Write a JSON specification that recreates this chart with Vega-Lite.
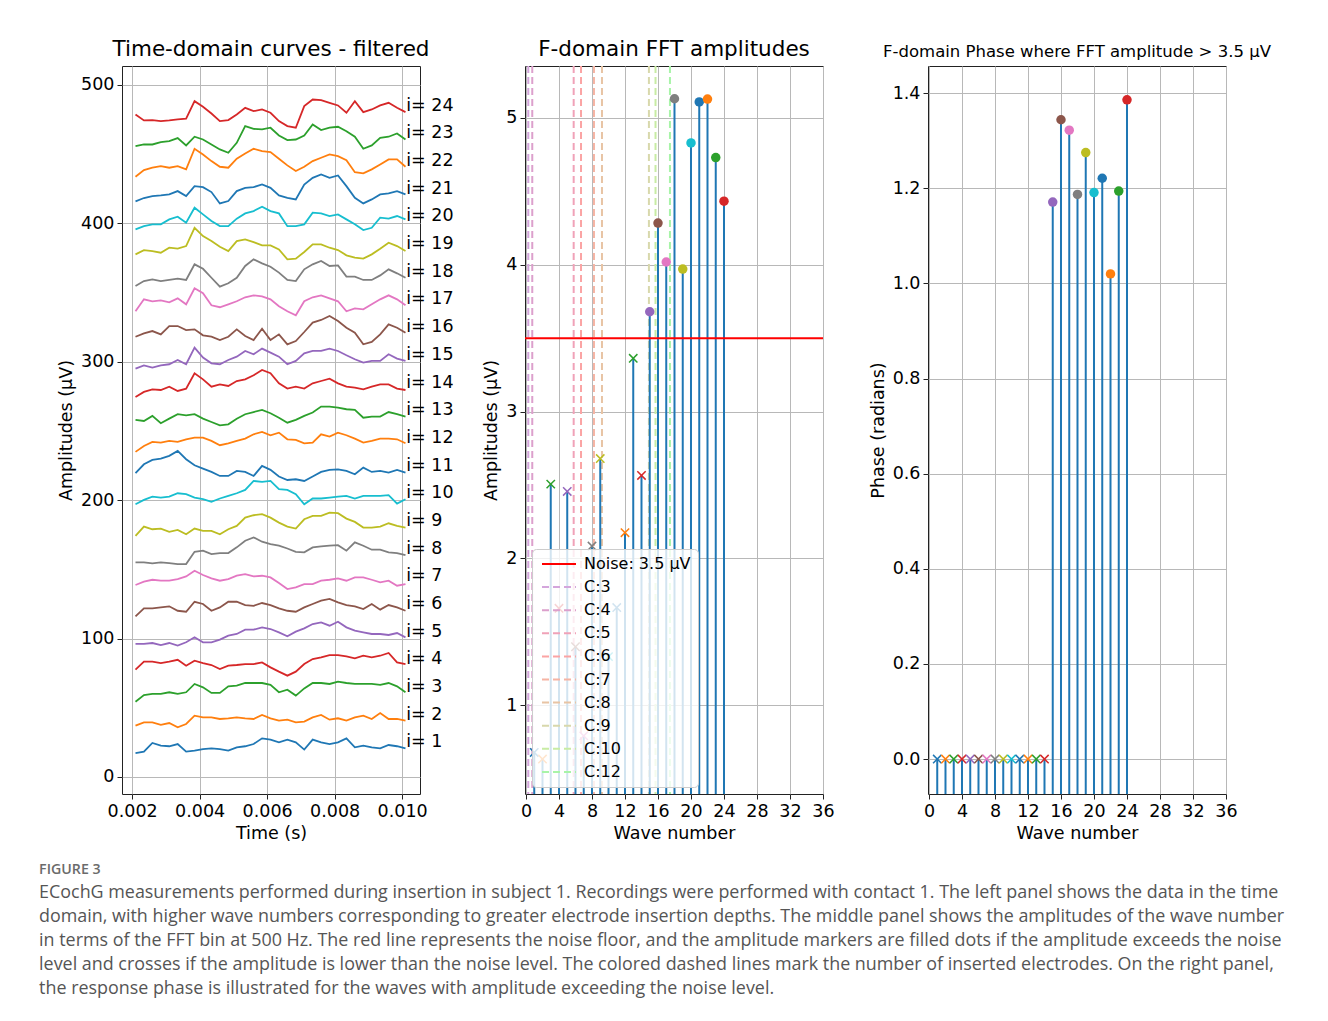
{
"$schema": "https://vega.github.io/schema/vega-lite/v6.json",
"background": "white",
"padding": {"left": 39, "top": 38, "right": 10, "bottom": 10},
"config": {
  "font": "DejaVu Sans",
  "view": {"stroke": "#222222", "strokeWidth": 1},
  "axis": {"labelFont": "DejaVu Sans", "labelFontSize": 17.5, "labelColor": "#000000", "titleFont": "DejaVu Sans", "titleFontSize": 17.5, "titleFontWeight": "normal", "titleColor": "#000000", "tickColor": "#222222", "tickSize": 5, "domain": false, "gridColor": "#b8b8b8", "gridWidth": 1, "labelPadding": 3, "titlePadding": 5, "labelOverlap": false, "labelFlush": false, "labelSeparation": -40}
},
"datasets": {
"curves": [
{"i":24,"t":0.0021,"v":478.7},{"i":24,"t":0.00235,"v":474.4},{"i":24,"t":0.0026,"v":474.6},{"i":24,"t":0.00285,"v":473.9},{"i":24,"t":0.0031,"v":474.4},{"i":24,"t":0.00335,"v":475.1},{"i":24,"t":0.0036,"v":475.6},{"i":24,"t":0.00385,"v":488.3},{"i":24,"t":0.0041,"v":484.2},{"i":24,"t":0.00435,"v":479.4},{"i":24,"t":0.0046,"v":473.9},{"i":24,"t":0.00485,"v":474.6},{"i":24,"t":0.0051,"v":478.7},{"i":24,"t":0.00535,"v":483.5},{"i":24,"t":0.0056,"v":481.1},{"i":24,"t":0.00585,"v":482.3},{"i":24,"t":0.0061,"v":479.9},{"i":24,"t":0.00635,"v":473.9},{"i":24,"t":0.0066,"v":470.3},{"i":24,"t":0.00685,"v":469.1},{"i":24,"t":0.0071,"v":484.7},{"i":24,"t":0.00735,"v":489.5},{"i":24,"t":0.0076,"v":489.0},{"i":24,"t":0.00785,"v":487.1},{"i":24,"t":0.0081,"v":485.2},{"i":24,"t":0.00835,"v":479.9},{"i":24,"t":0.0086,"v":488.3},{"i":24,"t":0.00885,"v":480.4},{"i":24,"t":0.0091,"v":482.3},{"i":24,"t":0.00935,"v":485.2},{"i":24,"t":0.0096,"v":487.1},{"i":24,"t":0.00985,"v":483.5},{"i":24,"t":0.0101,"v":480.4},
{"i":23,"t":0.0021,"v":455.8},{"i":23,"t":0.00235,"v":457.0},{"i":23,"t":0.0026,"v":457.0},{"i":23,"t":0.00285,"v":458.7},{"i":23,"t":0.0031,"v":459.4},{"i":23,"t":0.00335,"v":461.6},{"i":23,"t":0.0036,"v":456.3},{"i":23,"t":0.00385,"v":462.6},{"i":23,"t":0.0041,"v":460.6},{"i":23,"t":0.00435,"v":457.0},{"i":23,"t":0.0046,"v":453.4},{"i":23,"t":0.00485,"v":451.0},{"i":23,"t":0.0051,"v":458.2},{"i":23,"t":0.00535,"v":470.3},{"i":23,"t":0.0056,"v":468.3},{"i":23,"t":0.00585,"v":467.9},{"i":23,"t":0.0061,"v":469.1},{"i":23,"t":0.00635,"v":463.5},{"i":23,"t":0.0066,"v":460.2},{"i":23,"t":0.00685,"v":460.6},{"i":23,"t":0.0071,"v":463.5},{"i":23,"t":0.00735,"v":471.5},{"i":23,"t":0.0076,"v":467.4},{"i":23,"t":0.00785,"v":469.1},{"i":23,"t":0.0081,"v":469.8},{"i":23,"t":0.00835,"v":466.6},{"i":23,"t":0.0086,"v":462.6},{"i":23,"t":0.00885,"v":453.9},{"i":23,"t":0.0091,"v":456.3},{"i":23,"t":0.00935,"v":461.8},{"i":23,"t":0.0096,"v":462.6},{"i":23,"t":0.00985,"v":465.0},{"i":23,"t":0.0101,"v":460.6},
{"i":22,"t":0.0021,"v":433.7},{"i":22,"t":0.00235,"v":438.5},{"i":22,"t":0.0026,"v":440.2},{"i":22,"t":0.00285,"v":441.4},{"i":22,"t":0.0031,"v":440.2},{"i":22,"t":0.00335,"v":441.4},{"i":22,"t":0.0036,"v":439.0},{"i":22,"t":0.00385,"v":453.9},{"i":22,"t":0.0041,"v":449.8},{"i":22,"t":0.00435,"v":445.0},{"i":22,"t":0.0046,"v":440.9},{"i":22,"t":0.00485,"v":440.2},{"i":22,"t":0.0051,"v":446.7},{"i":22,"t":0.00535,"v":450.5},{"i":22,"t":0.0056,"v":453.9},{"i":22,"t":0.00585,"v":452.2},{"i":22,"t":0.0061,"v":451.5},{"i":22,"t":0.00635,"v":446.7},{"i":22,"t":0.0066,"v":441.9},{"i":22,"t":0.00685,"v":437.8},{"i":22,"t":0.0071,"v":440.9},{"i":22,"t":0.00735,"v":445.0},{"i":22,"t":0.0076,"v":447.4},{"i":22,"t":0.00785,"v":449.8},{"i":22,"t":0.0081,"v":448.6},{"i":22,"t":0.00835,"v":445.7},{"i":22,"t":0.0086,"v":437.0},{"i":22,"t":0.00885,"v":436.1},{"i":22,"t":0.0091,"v":439.0},{"i":22,"t":0.00935,"v":442.6},{"i":22,"t":0.0096,"v":446.2},{"i":22,"t":0.00985,"v":446.2},{"i":22,"t":0.0101,"v":440.9},
{"i":21,"t":0.0021,"v":415.9},{"i":21,"t":0.00235,"v":418.3},{"i":21,"t":0.0026,"v":419.7},{"i":21,"t":0.00285,"v":420.2},{"i":21,"t":0.0031,"v":420.9},{"i":21,"t":0.00335,"v":423.3},{"i":21,"t":0.0036,"v":419.7},{"i":21,"t":0.00385,"v":426.9},{"i":21,"t":0.0041,"v":426.2},{"i":21,"t":0.00435,"v":422.6},{"i":21,"t":0.0046,"v":414.4},{"i":21,"t":0.00485,"v":416.1},{"i":21,"t":0.0051,"v":423.3},{"i":21,"t":0.00535,"v":425.7},{"i":21,"t":0.0056,"v":426.2},{"i":21,"t":0.00585,"v":428.1},{"i":21,"t":0.0061,"v":425.7},{"i":21,"t":0.00635,"v":420.2},{"i":21,"t":0.0066,"v":418.5},{"i":21,"t":0.00685,"v":417.3},{"i":21,"t":0.0071,"v":428.1},{"i":21,"t":0.00735,"v":432.9},{"i":21,"t":0.0076,"v":435.4},{"i":21,"t":0.00785,"v":432.9},{"i":21,"t":0.0081,"v":434.6},{"i":21,"t":0.00835,"v":426.9},{"i":21,"t":0.0086,"v":418.5},{"i":21,"t":0.00885,"v":414.4},{"i":21,"t":0.0091,"v":417.3},{"i":21,"t":0.00935,"v":420.9},{"i":21,"t":0.0096,"v":421.6},{"i":21,"t":0.00985,"v":423.3},{"i":21,"t":0.0101,"v":420.9},
{"i":20,"t":0.0021,"v":395.6},{"i":20,"t":0.00235,"v":398.0},{"i":20,"t":0.0026,"v":399.3},{"i":20,"t":0.00285,"v":399.3},{"i":20,"t":0.0031,"v":402.9},{"i":20,"t":0.00335,"v":404.8},{"i":20,"t":0.0036,"v":400.5},{"i":20,"t":0.00385,"v":411.3},{"i":20,"t":0.0041,"v":406.5},{"i":20,"t":0.00435,"v":401.7},{"i":20,"t":0.0046,"v":398.0},{"i":20,"t":0.00485,"v":398.0},{"i":20,"t":0.0051,"v":403.4},{"i":20,"t":0.00535,"v":407.2},{"i":20,"t":0.0056,"v":408.9},{"i":20,"t":0.00585,"v":412.0},{"i":20,"t":0.0061,"v":408.9},{"i":20,"t":0.00635,"v":407.2},{"i":20,"t":0.0066,"v":398.0},{"i":20,"t":0.00685,"v":398.0},{"i":20,"t":0.0071,"v":399.3},{"i":20,"t":0.00735,"v":407.7},{"i":20,"t":0.0076,"v":407.2},{"i":20,"t":0.00785,"v":405.3},{"i":20,"t":0.0081,"v":406.5},{"i":20,"t":0.00835,"v":402.9},{"i":20,"t":0.0086,"v":399.3},{"i":20,"t":0.00885,"v":395.2},{"i":20,"t":0.0091,"v":396.8},{"i":20,"t":0.00935,"v":404.1},{"i":20,"t":0.0096,"v":403.4},{"i":20,"t":0.00985,"v":405.3},{"i":20,"t":0.0101,"v":402.9},
{"i":19,"t":0.0021,"v":377.6},{"i":19,"t":0.00235,"v":380.7},{"i":19,"t":0.0026,"v":380.0},{"i":19,"t":0.00285,"v":378.8},{"i":19,"t":0.0031,"v":382.4},{"i":19,"t":0.00335,"v":381.7},{"i":19,"t":0.0036,"v":383.6},{"i":19,"t":0.00385,"v":396.8},{"i":19,"t":0.0041,"v":390.8},{"i":19,"t":0.00435,"v":387.2},{"i":19,"t":0.0046,"v":383.1},{"i":19,"t":0.00485,"v":380.0},{"i":19,"t":0.0051,"v":387.2},{"i":19,"t":0.00535,"v":388.4},{"i":19,"t":0.0056,"v":386.5},{"i":19,"t":0.00585,"v":384.1},{"i":19,"t":0.0061,"v":384.1},{"i":19,"t":0.00635,"v":381.2},{"i":19,"t":0.0066,"v":374.0},{"i":19,"t":0.00685,"v":374.5},{"i":19,"t":0.0071,"v":379.3},{"i":19,"t":0.00735,"v":384.8},{"i":19,"t":0.0076,"v":384.8},{"i":19,"t":0.00785,"v":382.4},{"i":19,"t":0.0081,"v":380.7},{"i":19,"t":0.00835,"v":376.9},{"i":19,"t":0.0086,"v":375.2},{"i":19,"t":0.00885,"v":374.5},{"i":19,"t":0.0091,"v":377.6},{"i":19,"t":0.00935,"v":381.7},{"i":19,"t":0.0096,"v":386.0},{"i":19,"t":0.00985,"v":383.6},{"i":19,"t":0.0101,"v":380.0},
{"i":18,"t":0.0021,"v":354.7},{"i":18,"t":0.00235,"v":358.3},{"i":18,"t":0.0026,"v":359.5},{"i":18,"t":0.00285,"v":358.3},{"i":18,"t":0.0031,"v":359.1},{"i":18,"t":0.00335,"v":360.0},{"i":18,"t":0.0036,"v":359.1},{"i":18,"t":0.00385,"v":370.4},{"i":18,"t":0.0041,"v":367.2},{"i":18,"t":0.00435,"v":360.7},{"i":18,"t":0.0046,"v":354.3},{"i":18,"t":0.00485,"v":356.7},{"i":18,"t":0.0051,"v":360.7},{"i":18,"t":0.00535,"v":369.2},{"i":18,"t":0.0056,"v":374.0},{"i":18,"t":0.00585,"v":371.1},{"i":18,"t":0.0061,"v":368.7},{"i":18,"t":0.00635,"v":364.4},{"i":18,"t":0.0066,"v":359.1},{"i":18,"t":0.00685,"v":358.3},{"i":18,"t":0.0071,"v":366.8},{"i":18,"t":0.00735,"v":370.4},{"i":18,"t":0.0076,"v":372.8},{"i":18,"t":0.00785,"v":369.2},{"i":18,"t":0.0081,"v":369.6},{"i":18,"t":0.00835,"v":361.5},{"i":18,"t":0.0086,"v":361.5},{"i":18,"t":0.00885,"v":359.1},{"i":18,"t":0.0091,"v":359.1},{"i":18,"t":0.00935,"v":362.4},{"i":18,"t":0.0096,"v":366.8},{"i":18,"t":0.00985,"v":363.9},{"i":18,"t":0.0101,"v":360.7},
{"i":17,"t":0.0021,"v":336.5},{"i":17,"t":0.00235,"v":345.1},{"i":17,"t":0.0026,"v":343.7},{"i":17,"t":0.00285,"v":344.4},{"i":17,"t":0.0031,"v":343.0},{"i":17,"t":0.00335,"v":345.8},{"i":17,"t":0.0036,"v":341.5},{"i":17,"t":0.00385,"v":353.1},{"i":17,"t":0.0041,"v":349.5},{"i":17,"t":0.00435,"v":340.8},{"i":17,"t":0.0046,"v":339.4},{"i":17,"t":0.00485,"v":341.5},{"i":17,"t":0.0051,"v":343.7},{"i":17,"t":0.00535,"v":346.6},{"i":17,"t":0.0056,"v":348.0},{"i":17,"t":0.00585,"v":347.3},{"i":17,"t":0.0061,"v":345.1},{"i":17,"t":0.00635,"v":340.1},{"i":17,"t":0.0066,"v":336.5},{"i":17,"t":0.00685,"v":333.6},{"i":17,"t":0.0071,"v":343.7},{"i":17,"t":0.00735,"v":346.6},{"i":17,"t":0.0076,"v":348.0},{"i":17,"t":0.00785,"v":345.8},{"i":17,"t":0.0081,"v":343.7},{"i":17,"t":0.00835,"v":336.5},{"i":17,"t":0.0086,"v":338.6},{"i":17,"t":0.00885,"v":337.9},{"i":17,"t":0.0091,"v":341.5},{"i":17,"t":0.00935,"v":345.1},{"i":17,"t":0.0096,"v":348.0},{"i":17,"t":0.00985,"v":345.1},{"i":17,"t":0.0101,"v":340.8},
{"i":16,"t":0.0021,"v":318.1},{"i":16,"t":0.00235,"v":320.5},{"i":16,"t":0.0026,"v":322.2},{"i":16,"t":0.00285,"v":319.8},{"i":16,"t":0.0031,"v":325.8},{"i":16,"t":0.00335,"v":325.8},{"i":16,"t":0.0036,"v":322.9},{"i":16,"t":0.00385,"v":323.4},{"i":16,"t":0.0041,"v":319.1},{"i":16,"t":0.00435,"v":318.1},{"i":16,"t":0.0046,"v":315.7},{"i":16,"t":0.00485,"v":318.1},{"i":16,"t":0.0051,"v":323.4},{"i":16,"t":0.00535,"v":318.6},{"i":16,"t":0.0056,"v":315.7},{"i":16,"t":0.00585,"v":323.9},{"i":16,"t":0.0061,"v":315.7},{"i":16,"t":0.00635,"v":319.8},{"i":16,"t":0.0066,"v":312.6},{"i":16,"t":0.00685,"v":315.0},{"i":16,"t":0.0071,"v":321.5},{"i":16,"t":0.00735,"v":328.3},{"i":16,"t":0.0076,"v":330.2},{"i":16,"t":0.00785,"v":333.1},{"i":16,"t":0.0081,"v":329.5},{"i":16,"t":0.00835,"v":324.6},{"i":16,"t":0.0086,"v":321.0},{"i":16,"t":0.00885,"v":312.6},{"i":16,"t":0.0091,"v":314.3},{"i":16,"t":0.00935,"v":319.8},{"i":16,"t":0.0096,"v":327.0},{"i":16,"t":0.00985,"v":324.6},{"i":16,"t":0.0101,"v":321.0},
{"i":15,"t":0.0021,"v":295.0},{"i":15,"t":0.00235,"v":297.4},{"i":15,"t":0.0026,"v":295.8},{"i":15,"t":0.00285,"v":297.4},{"i":15,"t":0.0031,"v":298.2},{"i":15,"t":0.00335,"v":301.3},{"i":15,"t":0.0036,"v":298.2},{"i":15,"t":0.00385,"v":310.2},{"i":15,"t":0.0041,"v":303.0},{"i":15,"t":0.00435,"v":298.9},{"i":15,"t":0.0046,"v":298.2},{"i":15,"t":0.00485,"v":301.3},{"i":15,"t":0.0051,"v":303.7},{"i":15,"t":0.00535,"v":307.8},{"i":15,"t":0.0056,"v":305.4},{"i":15,"t":0.00585,"v":309.5},{"i":15,"t":0.0061,"v":306.6},{"i":15,"t":0.00635,"v":303.7},{"i":15,"t":0.0066,"v":298.2},{"i":15,"t":0.00685,"v":300.6},{"i":15,"t":0.0071,"v":306.1},{"i":15,"t":0.00735,"v":307.8},{"i":15,"t":0.0076,"v":307.8},{"i":15,"t":0.00785,"v":309.5},{"i":15,"t":0.0081,"v":307.8},{"i":15,"t":0.00835,"v":304.7},{"i":15,"t":0.0086,"v":301.8},{"i":15,"t":0.00885,"v":299.4},{"i":15,"t":0.0091,"v":300.6},{"i":15,"t":0.00935,"v":300.6},{"i":15,"t":0.0096,"v":305.4},{"i":15,"t":0.00985,"v":302.3},{"i":15,"t":0.0101,"v":300.6},
{"i":14,"t":0.0021,"v":274.6},{"i":14,"t":0.00235,"v":278.2},{"i":14,"t":0.0026,"v":280.1},{"i":14,"t":0.00285,"v":279.6},{"i":14,"t":0.0031,"v":282.0},{"i":14,"t":0.00335,"v":278.9},{"i":14,"t":0.0036,"v":280.6},{"i":14,"t":0.00385,"v":291.7},{"i":14,"t":0.0041,"v":287.3},{"i":14,"t":0.00435,"v":282.0},{"i":14,"t":0.0046,"v":283.7},{"i":14,"t":0.00485,"v":282.5},{"i":14,"t":0.0051,"v":286.1},{"i":14,"t":0.00535,"v":287.3},{"i":14,"t":0.0056,"v":290.2},{"i":14,"t":0.00585,"v":294.1},{"i":14,"t":0.0061,"v":291.7},{"i":14,"t":0.00635,"v":284.4},{"i":14,"t":0.0066,"v":280.6},{"i":14,"t":0.00685,"v":282.0},{"i":14,"t":0.0071,"v":280.6},{"i":14,"t":0.00735,"v":284.4},{"i":14,"t":0.0076,"v":286.1},{"i":14,"t":0.00785,"v":287.8},{"i":14,"t":0.0081,"v":284.4},{"i":14,"t":0.00835,"v":282.0},{"i":14,"t":0.0086,"v":281.3},{"i":14,"t":0.00885,"v":280.1},{"i":14,"t":0.0091,"v":282.0},{"i":14,"t":0.00935,"v":283.7},{"i":14,"t":0.0096,"v":283.7},{"i":14,"t":0.00985,"v":280.6},{"i":14,"t":0.0101,"v":279.6},
{"i":13,"t":0.0021,"v":258.0},{"i":13,"t":0.00235,"v":257.2},{"i":13,"t":0.0026,"v":260.9},{"i":13,"t":0.00285,"v":255.6},{"i":13,"t":0.0031,"v":258.9},{"i":13,"t":0.00335,"v":262.1},{"i":13,"t":0.0036,"v":261.3},{"i":13,"t":0.00385,"v":262.1},{"i":13,"t":0.0041,"v":258.9},{"i":13,"t":0.00435,"v":256.5},{"i":13,"t":0.0046,"v":254.1},{"i":13,"t":0.00485,"v":254.8},{"i":13,"t":0.0051,"v":258.9},{"i":13,"t":0.00535,"v":262.1},{"i":13,"t":0.0056,"v":263.7},{"i":13,"t":0.00585,"v":265.2},{"i":13,"t":0.0061,"v":262.8},{"i":13,"t":0.00635,"v":259.6},{"i":13,"t":0.0066,"v":256.0},{"i":13,"t":0.00685,"v":258.0},{"i":13,"t":0.0071,"v":260.9},{"i":13,"t":0.00735,"v":263.3},{"i":13,"t":0.0076,"v":267.6},{"i":13,"t":0.00785,"v":267.6},{"i":13,"t":0.0081,"v":266.9},{"i":13,"t":0.00835,"v":265.7},{"i":13,"t":0.0086,"v":265.2},{"i":13,"t":0.00885,"v":259.6},{"i":13,"t":0.0091,"v":260.4},{"i":13,"t":0.00935,"v":260.4},{"i":13,"t":0.0096,"v":263.7},{"i":13,"t":0.00985,"v":262.1},{"i":13,"t":0.0101,"v":260.4},
{"i":12,"t":0.0021,"v":234.9},{"i":12,"t":0.00235,"v":239.2},{"i":12,"t":0.0026,"v":242.1},{"i":12,"t":0.00285,"v":241.6},{"i":12,"t":0.0031,"v":242.8},{"i":12,"t":0.00335,"v":242.1},{"i":12,"t":0.0036,"v":244.0},{"i":12,"t":0.00385,"v":245.2},{"i":12,"t":0.0041,"v":245.2},{"i":12,"t":0.00435,"v":242.8},{"i":12,"t":0.0046,"v":239.7},{"i":12,"t":0.00485,"v":241.1},{"i":12,"t":0.0051,"v":242.8},{"i":12,"t":0.00535,"v":244.5},{"i":12,"t":0.0056,"v":247.6},{"i":12,"t":0.00585,"v":249.3},{"i":12,"t":0.0061,"v":246.9},{"i":12,"t":0.00635,"v":248.8},{"i":12,"t":0.0066,"v":244.0},{"i":12,"t":0.00685,"v":243.5},{"i":12,"t":0.0071,"v":241.1},{"i":12,"t":0.00735,"v":241.6},{"i":12,"t":0.0076,"v":247.6},{"i":12,"t":0.00785,"v":245.9},{"i":12,"t":0.0081,"v":248.8},{"i":12,"t":0.00835,"v":246.9},{"i":12,"t":0.0086,"v":244.5},{"i":12,"t":0.00885,"v":241.6},{"i":12,"t":0.0091,"v":242.8},{"i":12,"t":0.00935,"v":244.5},{"i":12,"t":0.0096,"v":244.5},{"i":12,"t":0.00985,"v":244.0},{"i":12,"t":0.0101,"v":241.1},
{"i":11,"t":0.0021,"v":219.5},{"i":11,"t":0.00235,"v":225.9},{"i":11,"t":0.0026,"v":229.1},{"i":11,"t":0.00285,"v":230.0},{"i":11,"t":0.0031,"v":232.0},{"i":11,"t":0.00335,"v":235.6},{"i":11,"t":0.0036,"v":229.6},{"i":11,"t":0.00385,"v":225.2},{"i":11,"t":0.0041,"v":222.8},{"i":11,"t":0.00435,"v":220.4},{"i":11,"t":0.0046,"v":217.5},{"i":11,"t":0.00485,"v":217.5},{"i":11,"t":0.0051,"v":221.1},{"i":11,"t":0.00535,"v":220.4},{"i":11,"t":0.0056,"v":217.5},{"i":11,"t":0.00585,"v":224.8},{"i":11,"t":0.0061,"v":221.9},{"i":11,"t":0.00635,"v":217.1},{"i":11,"t":0.0066,"v":214.6},{"i":11,"t":0.00685,"v":215.1},{"i":11,"t":0.0071,"v":213.9},{"i":11,"t":0.00735,"v":217.1},{"i":11,"t":0.0076,"v":220.4},{"i":11,"t":0.00785,"v":221.9},{"i":11,"t":0.0081,"v":222.3},{"i":11,"t":0.00835,"v":221.1},{"i":11,"t":0.0086,"v":218.7},{"i":11,"t":0.00885,"v":223.5},{"i":11,"t":0.0091,"v":220.4},{"i":11,"t":0.00935,"v":221.1},{"i":11,"t":0.0096,"v":219.9},{"i":11,"t":0.00985,"v":221.9},{"i":11,"t":0.0101,"v":219.9},
{"i":10,"t":0.0021,"v":197.1},{"i":10,"t":0.00235,"v":200.2},{"i":10,"t":0.0026,"v":202.6},{"i":10,"t":0.00285,"v":201.9},{"i":10,"t":0.0031,"v":202.6},{"i":10,"t":0.00335,"v":205.0},{"i":10,"t":0.0036,"v":204.3},{"i":10,"t":0.00385,"v":201.9},{"i":10,"t":0.0041,"v":200.7},{"i":10,"t":0.00435,"v":198.8},{"i":10,"t":0.0046,"v":201.2},{"i":10,"t":0.00485,"v":203.1},{"i":10,"t":0.0051,"v":205.0},{"i":10,"t":0.00535,"v":207.4},{"i":10,"t":0.0056,"v":213.9},{"i":10,"t":0.00585,"v":213.2},{"i":10,"t":0.0061,"v":213.9},{"i":10,"t":0.00635,"v":207.9},{"i":10,"t":0.0066,"v":207.4},{"i":10,"t":0.00685,"v":204.3},{"i":10,"t":0.0071,"v":197.0},{"i":10,"t":0.00735,"v":201.2},{"i":10,"t":0.0076,"v":201.2},{"i":10,"t":0.00785,"v":201.9},{"i":10,"t":0.0081,"v":202.6},{"i":10,"t":0.00835,"v":203.1},{"i":10,"t":0.0086,"v":201.2},{"i":10,"t":0.00885,"v":203.1},{"i":10,"t":0.0091,"v":203.1},{"i":10,"t":0.00935,"v":203.1},{"i":10,"t":0.0096,"v":203.6},{"i":10,"t":0.00985,"v":197.5},{"i":10,"t":0.0101,"v":200.7},
{"i":9,"t":0.0021,"v":174.2},{"i":9,"t":0.00235,"v":180.9},{"i":9,"t":0.0026,"v":179.0},{"i":9,"t":0.00285,"v":179.5},{"i":9,"t":0.0031,"v":177.1},{"i":9,"t":0.00335,"v":178.5},{"i":9,"t":0.0036,"v":175.4},{"i":9,"t":0.00385,"v":179.5},{"i":9,"t":0.0041,"v":177.8},{"i":9,"t":0.00435,"v":177.8},{"i":9,"t":0.0046,"v":175.4},{"i":9,"t":0.00485,"v":179.0},{"i":9,"t":0.0051,"v":181.4},{"i":9,"t":0.00535,"v":187.4},{"i":9,"t":0.0056,"v":189.1},{"i":9,"t":0.00585,"v":189.9},{"i":9,"t":0.0061,"v":187.4},{"i":9,"t":0.00635,"v":183.8},{"i":9,"t":0.0066,"v":180.9},{"i":9,"t":0.00685,"v":179.5},{"i":9,"t":0.0071,"v":186.2},{"i":9,"t":0.00735,"v":188.6},{"i":9,"t":0.0076,"v":188.6},{"i":9,"t":0.00785,"v":191.0},{"i":9,"t":0.0081,"v":190.6},{"i":9,"t":0.00835,"v":186.7},{"i":9,"t":0.0086,"v":184.3},{"i":9,"t":0.00885,"v":180.2},{"i":9,"t":0.0091,"v":180.2},{"i":9,"t":0.00935,"v":180.9},{"i":9,"t":0.0096,"v":183.3},{"i":9,"t":0.00985,"v":181.4},{"i":9,"t":0.0101,"v":180.2},
{"i":8,"t":0.0021,"v":155.0},{"i":8,"t":0.00235,"v":155.0},{"i":8,"t":0.0026,"v":154.3},{"i":8,"t":0.00285,"v":155.0},{"i":8,"t":0.0031,"v":154.5},{"i":8,"t":0.00335,"v":153.8},{"i":8,"t":0.0036,"v":153.8},{"i":8,"t":0.00385,"v":162.7},{"i":8,"t":0.0041,"v":163.5},{"i":8,"t":0.00435,"v":161.0},{"i":8,"t":0.0046,"v":161.8},{"i":8,"t":0.00485,"v":161.8},{"i":8,"t":0.0051,"v":165.9},{"i":8,"t":0.00535,"v":170.7},{"i":8,"t":0.0056,"v":173.1},{"i":8,"t":0.00585,"v":170.0},{"i":8,"t":0.0061,"v":168.3},{"i":8,"t":0.00635,"v":167.1},{"i":8,"t":0.0066,"v":165.1},{"i":8,"t":0.00685,"v":162.7},{"i":8,"t":0.0071,"v":162.3},{"i":8,"t":0.00735,"v":165.9},{"i":8,"t":0.0076,"v":166.6},{"i":8,"t":0.00785,"v":167.1},{"i":8,"t":0.0081,"v":167.5},{"i":8,"t":0.00835,"v":163.5},{"i":8,"t":0.0086,"v":169.5},{"i":8,"t":0.00885,"v":167.1},{"i":8,"t":0.0091,"v":164.2},{"i":8,"t":0.00935,"v":164.2},{"i":8,"t":0.0096,"v":162.3},{"i":8,"t":0.00985,"v":161.8},{"i":8,"t":0.0101,"v":160.3},
{"i":7,"t":0.0021,"v":138.7},{"i":7,"t":0.00235,"v":141.1},{"i":7,"t":0.0026,"v":142.5},{"i":7,"t":0.00285,"v":141.8},{"i":7,"t":0.0031,"v":141.8},{"i":7,"t":0.00335,"v":143.0},{"i":7,"t":0.0036,"v":144.9},{"i":7,"t":0.00385,"v":149.0},{"i":7,"t":0.0041,"v":145.9},{"i":7,"t":0.00435,"v":143.5},{"i":7,"t":0.0046,"v":141.8},{"i":7,"t":0.00485,"v":143.0},{"i":7,"t":0.0051,"v":145.4},{"i":7,"t":0.00535,"v":146.6},{"i":7,"t":0.0056,"v":144.9},{"i":7,"t":0.00585,"v":145.4},{"i":7,"t":0.0061,"v":144.2},{"i":7,"t":0.00635,"v":140.1},{"i":7,"t":0.0066,"v":135.8},{"i":7,"t":0.00685,"v":137.0},{"i":7,"t":0.0071,"v":139.4},{"i":7,"t":0.00735,"v":139.4},{"i":7,"t":0.0076,"v":141.8},{"i":7,"t":0.00785,"v":142.5},{"i":7,"t":0.0081,"v":143.5},{"i":7,"t":0.00835,"v":141.8},{"i":7,"t":0.0086,"v":144.2},{"i":7,"t":0.00885,"v":144.2},{"i":7,"t":0.0091,"v":142.5},{"i":7,"t":0.00935,"v":140.6},{"i":7,"t":0.0096,"v":141.8},{"i":7,"t":0.00985,"v":138.2},{"i":7,"t":0.0101,"v":139.4},
{"i":6,"t":0.0021,"v":116.0},{"i":6,"t":0.00235,"v":121.8},{"i":6,"t":0.0026,"v":121.8},{"i":6,"t":0.00285,"v":122.5},{"i":6,"t":0.0031,"v":123.3},{"i":6,"t":0.00335,"v":120.1},{"i":6,"t":0.0036,"v":119.4},{"i":6,"t":0.00385,"v":126.6},{"i":6,"t":0.0041,"v":125.0},{"i":6,"t":0.00435,"v":120.1},{"i":6,"t":0.0046,"v":122.5},{"i":6,"t":0.00485,"v":126.6},{"i":6,"t":0.0051,"v":126.6},{"i":6,"t":0.00535,"v":124.2},{"i":6,"t":0.0056,"v":123.7},{"i":6,"t":0.00585,"v":125.7},{"i":6,"t":0.0061,"v":124.2},{"i":6,"t":0.00635,"v":121.8},{"i":6,"t":0.0066,"v":120.1},{"i":6,"t":0.00685,"v":119.4},{"i":6,"t":0.0071,"v":122.5},{"i":6,"t":0.00735,"v":125.0},{"i":6,"t":0.0076,"v":127.4},{"i":6,"t":0.00785,"v":128.6},{"i":6,"t":0.0081,"v":126.1},{"i":6,"t":0.00835,"v":124.2},{"i":6,"t":0.0086,"v":123.3},{"i":6,"t":0.00885,"v":121.3},{"i":6,"t":0.0091,"v":125.0},{"i":6,"t":0.00935,"v":120.9},{"i":6,"t":0.0096,"v":124.2},{"i":6,"t":0.00985,"v":122.5},{"i":6,"t":0.0101,"v":120.1},
{"i":5,"t":0.0021,"v":96.1},{"i":5,"t":0.00235,"v":96.1},{"i":5,"t":0.0026,"v":96.8},{"i":5,"t":0.00285,"v":95.3},{"i":5,"t":0.0031,"v":96.8},{"i":5,"t":0.00335,"v":94.9},{"i":5,"t":0.0036,"v":97.3},{"i":5,"t":0.00385,"v":100.9},{"i":5,"t":0.0041,"v":97.3},{"i":5,"t":0.00435,"v":97.3},{"i":5,"t":0.0046,"v":99.2},{"i":5,"t":0.00485,"v":102.1},{"i":5,"t":0.0051,"v":103.3},{"i":5,"t":0.00535,"v":106.4},{"i":5,"t":0.0056,"v":106.4},{"i":5,"t":0.00585,"v":108.1},{"i":5,"t":0.0061,"v":106.9},{"i":5,"t":0.00635,"v":104.5},{"i":5,"t":0.0066,"v":101.6},{"i":5,"t":0.00685,"v":105.0},{"i":5,"t":0.0071,"v":107.4},{"i":5,"t":0.00735,"v":110.5},{"i":5,"t":0.0076,"v":111.7},{"i":5,"t":0.00785,"v":109.3},{"i":5,"t":0.0081,"v":112.2},{"i":5,"t":0.00835,"v":108.1},{"i":5,"t":0.0086,"v":105.7},{"i":5,"t":0.00885,"v":104.5},{"i":5,"t":0.0091,"v":103.3},{"i":5,"t":0.00935,"v":103.3},{"i":5,"t":0.0096,"v":102.6},{"i":5,"t":0.00985,"v":104.0},{"i":5,"t":0.0101,"v":100.9},
{"i":4,"t":0.0021,"v":77.5},{"i":4,"t":0.00235,"v":83.3},{"i":4,"t":0.0026,"v":83.3},{"i":4,"t":0.00285,"v":82.3},{"i":4,"t":0.0031,"v":83.3},{"i":4,"t":0.00335,"v":84.7},{"i":4,"t":0.0036,"v":80.4},{"i":4,"t":0.00385,"v":84.0},{"i":4,"t":0.0041,"v":82.3},{"i":4,"t":0.00435,"v":80.9},{"i":4,"t":0.0046,"v":78.0},{"i":4,"t":0.00485,"v":80.4},{"i":4,"t":0.0051,"v":80.9},{"i":4,"t":0.00535,"v":81.6},{"i":4,"t":0.0056,"v":81.6},{"i":4,"t":0.00585,"v":82.8},{"i":4,"t":0.0061,"v":79.2},{"i":4,"t":0.00635,"v":76.1},{"i":4,"t":0.0066,"v":73.2},{"i":4,"t":0.00685,"v":76.1},{"i":4,"t":0.0071,"v":81.6},{"i":4,"t":0.00735,"v":85.2},{"i":4,"t":0.0076,"v":86.4},{"i":4,"t":0.00785,"v":88.1},{"i":4,"t":0.0081,"v":88.1},{"i":4,"t":0.00835,"v":87.2},{"i":4,"t":0.0086,"v":85.7},{"i":4,"t":0.00885,"v":87.6},{"i":4,"t":0.0091,"v":86.4},{"i":4,"t":0.00935,"v":87.6},{"i":4,"t":0.0096,"v":89.6},{"i":4,"t":0.00985,"v":82.8},{"i":4,"t":0.0101,"v":81.6},
{"i":3,"t":0.0021,"v":54.4},{"i":3,"t":0.00235,"v":59.2},{"i":3,"t":0.0026,"v":60.0},{"i":3,"t":0.00285,"v":60.0},{"i":3,"t":0.0031,"v":61.2},{"i":3,"t":0.00335,"v":60.0},{"i":3,"t":0.0036,"v":61.2},{"i":3,"t":0.00385,"v":67.2},{"i":3,"t":0.0041,"v":64.8},{"i":3,"t":0.00435,"v":60.7},{"i":3,"t":0.0046,"v":60.7},{"i":3,"t":0.00485,"v":65.5},{"i":3,"t":0.0051,"v":66.0},{"i":3,"t":0.00535,"v":67.9},{"i":3,"t":0.0056,"v":67.9},{"i":3,"t":0.00585,"v":67.9},{"i":3,"t":0.0061,"v":66.5},{"i":3,"t":0.00635,"v":61.2},{"i":3,"t":0.0066,"v":63.1},{"i":3,"t":0.00685,"v":58.8},{"i":3,"t":0.0071,"v":64.0},{"i":3,"t":0.00735,"v":67.9},{"i":3,"t":0.0076,"v":67.9},{"i":3,"t":0.00785,"v":67.2},{"i":3,"t":0.0081,"v":68.9},{"i":3,"t":0.00835,"v":67.9},{"i":3,"t":0.0086,"v":67.2},{"i":3,"t":0.00885,"v":67.2},{"i":3,"t":0.0091,"v":67.2},{"i":3,"t":0.00935,"v":66.5},{"i":3,"t":0.0096,"v":67.9},{"i":3,"t":0.00985,"v":65.5},{"i":3,"t":0.0101,"v":61.2},
{"i":2,"t":0.0021,"v":37.1},{"i":2,"t":0.00235,"v":39.5},{"i":2,"t":0.0026,"v":39.5},{"i":2,"t":0.00285,"v":37.6},{"i":2,"t":0.0031,"v":39.0},{"i":2,"t":0.00335,"v":35.9},{"i":2,"t":0.0036,"v":38.3},{"i":2,"t":0.00385,"v":44.3},{"i":2,"t":0.0041,"v":43.1},{"i":2,"t":0.00435,"v":43.1},{"i":2,"t":0.0046,"v":41.9},{"i":2,"t":0.00485,"v":42.4},{"i":2,"t":0.0051,"v":43.1},{"i":2,"t":0.00535,"v":42.4},{"i":2,"t":0.0056,"v":41.9},{"i":2,"t":0.00585,"v":44.8},{"i":2,"t":0.0061,"v":42.4},{"i":2,"t":0.00635,"v":40.7},{"i":2,"t":0.0066,"v":41.4},{"i":2,"t":0.00685,"v":39.5},{"i":2,"t":0.0071,"v":40.0},{"i":2,"t":0.00735,"v":43.1},{"i":2,"t":0.0076,"v":44.8},{"i":2,"t":0.00785,"v":41.4},{"i":2,"t":0.0081,"v":42.4},{"i":2,"t":0.00835,"v":40.7},{"i":2,"t":0.0086,"v":43.1},{"i":2,"t":0.00885,"v":44.3},{"i":2,"t":0.0091,"v":41.9},{"i":2,"t":0.00935,"v":46.2},{"i":2,"t":0.0096,"v":41.9},{"i":2,"t":0.00985,"v":41.9},{"i":2,"t":0.0101,"v":40.7},
{"i":1,"t":0.0021,"v":17.3},{"i":1,"t":0.00235,"v":18.3},{"i":1,"t":0.0026,"v":24.6},{"i":1,"t":0.00285,"v":22.7},{"i":1,"t":0.0031,"v":22.2},{"i":1,"t":0.00335,"v":23.8},{"i":1,"t":0.0036,"v":18.3},{"i":1,"t":0.00385,"v":19.0},{"i":1,"t":0.0041,"v":20.2},{"i":1,"t":0.00435,"v":20.7},{"i":1,"t":0.0046,"v":20.2},{"i":1,"t":0.00485,"v":19.0},{"i":1,"t":0.0051,"v":21.4},{"i":1,"t":0.00535,"v":22.2},{"i":1,"t":0.0056,"v":23.8},{"i":1,"t":0.00585,"v":27.9},{"i":1,"t":0.0061,"v":27.0},{"i":1,"t":0.00635,"v":25.0},{"i":1,"t":0.0066,"v":27.0},{"i":1,"t":0.00685,"v":25.0},{"i":1,"t":0.0071,"v":19.8},{"i":1,"t":0.00735,"v":27.0},{"i":1,"t":0.0076,"v":25.0},{"i":1,"t":0.00785,"v":23.8},{"i":1,"t":0.0081,"v":25.0},{"i":1,"t":0.00835,"v":27.9},{"i":1,"t":0.0086,"v":21.4},{"i":1,"t":0.00885,"v":22.7},{"i":1,"t":0.0091,"v":21.4},{"i":1,"t":0.00935,"v":20.7},{"i":1,"t":0.0096,"v":23.1},{"i":1,"t":0.00985,"v":22.2},{"i":1,"t":0.0101,"v":20.7}
],
"labels": [
{"i":1,"lab":"i= 1","t":0.01012,"v":25},{"i":2,"lab":"i= 2","t":0.01012,"v":45},{"i":3,"lab":"i= 3","t":0.01012,"v":65},{"i":4,"lab":"i= 4","t":0.01012,"v":85},{"i":5,"lab":"i= 5","t":0.01012,"v":105},{"i":6,"lab":"i= 6","t":0.01012,"v":125},{"i":7,"lab":"i= 7","t":0.01012,"v":145},{"i":8,"lab":"i= 8","t":0.01012,"v":165},{"i":9,"lab":"i= 9","t":0.01012,"v":185},{"i":10,"lab":"i= 10","t":0.01012,"v":205},{"i":11,"lab":"i= 11","t":0.01012,"v":225},{"i":12,"lab":"i= 12","t":0.01012,"v":245},{"i":13,"lab":"i= 13","t":0.01012,"v":265},{"i":14,"lab":"i= 14","t":0.01012,"v":285},{"i":15,"lab":"i= 15","t":0.01012,"v":305},{"i":16,"lab":"i= 16","t":0.01012,"v":325},{"i":17,"lab":"i= 17","t":0.01012,"v":345},{"i":18,"lab":"i= 18","t":0.01012,"v":365},{"i":19,"lab":"i= 19","t":0.01012,"v":385},{"i":20,"lab":"i= 20","t":0.01012,"v":405},{"i":21,"lab":"i= 21","t":0.01012,"v":425},{"i":22,"lab":"i= 22","t":0.01012,"v":445},{"i":23,"lab":"i= 23","t":0.01012,"v":465},{"i":24,"lab":"i= 24","t":0.01012,"v":485}
],
"waves": [
{"wave":1,"amp":0.678,"phase":0},{"wave":2,"amp":0.633,"phase":0},{"wave":3,"amp":2.506,"phase":0},{"wave":4,"amp":1.66,"phase":0},{"wave":5,"amp":2.456,"phase":0},{"wave":6,"amp":1.398,"phase":0},{"wave":7,"amp":0.791,"phase":0},{"wave":8,"amp":2.084,"phase":0},{"wave":9,"amp":2.68,"phase":0},{"wave":10,"amp":1.331,"phase":0},{"wave":11,"amp":1.665,"phase":0},{"wave":12,"amp":2.175,"phase":0},{"wave":13,"amp":3.363,"phase":0},{"wave":14,"amp":2.565,"phase":0},{"wave":15,"amp":3.68,"phase":1.171},{"wave":16,"amp":4.284,"phase":1.344},{"wave":17,"amp":4.019,"phase":1.322},{"wave":18,"amp":5.131,"phase":1.187},{"wave":19,"amp":3.971,"phase":1.275},{"wave":20,"amp":4.83,"phase":1.191},{"wave":21,"amp":5.109,"phase":1.221},{"wave":22,"amp":5.129,"phase":1.02},{"wave":23,"amp":4.73,"phase":1.194},{"wave":24,"amp":4.433,"phase":1.386}
],
"contacts": [
{"series":"C:3","wave":0.28},{"series":"C:4","wave":0.76},{"series":"C:5","wave":5.78},{"series":"C:6","wave":6.67},{"series":"C:7","wave":8.24},{"series":"C:8","wave":9.21},{"series":"C:9","wave":14.9},{"series":"C:10","wave":15.7},{"series":"C:12","wave":17.45}
],
"noise": [{"series":"Noise: 3.5 µV","amp":3.5}]
},
"bounds": "flush",
"spacing": 105,
"title": {
  "text": "FIGURE 3",
  "subtitle": [
    "ECochG measurements performed during insertion in subject 1. Recordings were performed with contact 1. The left panel shows the data in the time",
    "domain, with higher wave numbers corresponding to greater electrode insertion depths. The middle panel shows the amplitudes of the wave number",
    "in terms of the FFT bin at 500 Hz. The red line represents the noise floor, and the amplitude markers are filled dots if the amplitude exceeds the noise",
    "level and crosses if the amplitude is lower than the noise level. The colored dashed lines mark the number of inserted electrodes. On the right panel,",
    "the response phase is illustrated for the waves with amplitude exceeding the noise level."
  ],
  "orient": "bottom", "anchor": "start", "frame": "bounds", "dx": -18, "offset": 20,
  "font": "Open Sans", "fontSize": 14.2, "fontWeight": 600, "color": "#6b6b6b",
  "subtitleFont": "Open Sans", "subtitleFontSize": 17.9, "subtitleColor": "#555555", "subtitleLineHeight": 24, "subtitlePadding": 7
},
"hconcat": [
{
  "width": 298, "height": 728,
  "title": {"text": "Time-domain curves - filtered", "font": "DejaVu Sans", "fontSize": 21.5, "fontWeight": "normal", "color": "#000000", "offset": 6},
  "layer": [
    {"data": {"name": "curves"}, "mark": {"type": "line", "strokeWidth": 1.8},
     "encoding": {
       "x": {"field": "t", "type": "quantitative", "scale": {"domain": [0.0017, 0.01053], "nice": false, "zero": false}, "axis": {"values": [0.002, 0.004, 0.006, 0.008, 0.010], "format": ".3f", "title": "Time (s)"}},
       "y": {"field": "v", "type": "quantitative", "scale": {"domain": [-12.3, 513.7], "nice": false, "zero": false}, "axis": {"values": [0, 100, 200, 300, 400, 500], "title": "Amplitudes (µV)"}},
       "color": {"field": "i", "type": "ordinal", "scale": {"domain": [1,2,3,4,5,6,7,8,9,10,11,12,13,14,15,16,17,18,19,20,21,22,23,24], "range": ["#1f77b4","#ff7f0e","#2ca02c","#d62728","#9467bd","#8c564b","#e377c2","#7f7f7f","#bcbd22","#17becf","#1f77b4","#ff7f0e","#2ca02c","#d62728","#9467bd","#8c564b","#e377c2","#7f7f7f","#bcbd22","#17becf","#1f77b4","#ff7f0e","#2ca02c","#d62728"]}, "legend": null},
       "order": {"field": "t", "type": "quantitative"}
     }},
    {"data": {"name": "labels"}, "mark": {"type": "text", "align": "left", "baseline": "middle", "font": "DejaVu Sans", "fontSize": 17.5, "color": "#000000"},
     "encoding": {
       "x": {"field": "t", "type": "quantitative"},
       "y": {"field": "v", "type": "quantitative"},
       "text": {"field": "lab"}
     }}
  ]
},
{
  "width": 298, "height": 728,
  "title": {"text": "F-domain FFT amplitudes", "font": "DejaVu Sans", "fontSize": 21.5, "fontWeight": "normal", "color": "#000000", "offset": 6},
  "layer": [
    {"data": {"name": "contacts"}, "mark": {"type": "rule", "strokeWidth": 2, "clip": true},
     "encoding": {
       "x": {"field": "wave", "type": "quantitative", "scale": {"domain": [-0.12, 36], "nice": false, "zero": false}, "axis": {"values": [0,4,8,12,16,20,24,28,32,36], "format": "d", "title": "Wave number", "labelOverlap": false, "labelSeparation": -40}},
       "color": {"field": "series", "type": "nominal", "scale": {"domain": ["Noise: 3.5 µV","C:3","C:4","C:5","C:6","C:7","C:8","C:9","C:10","C:12"], "range": ["#ff0000","#d4a6dc","#dca0cc","#f0a2b8","#fba4a4","#f6b4a4","#e8c4a4","#d8d8ac","#c8eca4","#a8f4a8"]},
                 "legend": {"orient": "bottom-left", "title": null, "symbolType": "M-1,0H5.8", "symbolSize": 100, "symbolStrokeWidth": 2, "labelFont": "DejaVu Sans", "labelFontSize": 16, "labelColor": "#000000", "fillColor": "rgba(255,255,255,0.8)", "strokeColor": "#cccccc", "cornerRadius": 4, "padding": 7, "rowPadding": 7.1, "labelOffset": 29, "offset": 7}},
       "strokeDash": {"field": "series", "type": "nominal", "scale": {"domain": ["Noise: 3.5 µV","C:3","C:4","C:5","C:6","C:7","C:8","C:9","C:10","C:12"], "range": [[1,0],[7,4],[7,4],[7,4],[7,4],[7,4],[7,4],[7,4],[7,4],[7,4]]},
                 "legend": {"orient": "bottom-left", "title": null, "symbolType": "M-1,0H5.8", "symbolSize": 100, "symbolStrokeWidth": 2, "labelFont": "DejaVu Sans", "labelFontSize": 16, "labelColor": "#000000", "fillColor": "rgba(255,255,255,0.8)", "strokeColor": "#cccccc", "cornerRadius": 4, "padding": 7, "rowPadding": 7.1, "labelOffset": 29, "offset": 7}}
     }},
    {"data": {"name": "waves"}, "mark": {"type": "rule", "strokeWidth": 2, "color": "#1f77b4", "clip": true},
     "encoding": {
       "x": {"field": "wave", "type": "quantitative", "axis": {"values": [0,4,8,12,16,20,24,28,32,36], "format": "d", "title": "Wave number", "labelOverlap": false, "labelSeparation": -40}},
       "y": {"field": "amp", "type": "quantitative", "scale": {"domain": [0.395, 5.354], "nice": false, "zero": false}, "axis": {"values": [1,2,3,4,5], "format": "d", "title": "Amplitudes (µV)"}},
       "y2": {"datum": 0}
     }},
    {"data": {"name": "noise"}, "mark": {"type": "rule", "strokeWidth": 2, "clip": true},
     "encoding": {
       "y": {"field": "amp", "type": "quantitative"},
       "color": {"field": "series", "type": "nominal"},
       "strokeDash": {"field": "series", "type": "nominal"}
     }},
    {"data": {"name": "waves"}, "transform": [{"filter": "datum.amp > 3.5"}], "mark": {"type": "point", "filled": true, "size": 90, "opacity": 1},
     "encoding": {
       "x": {"field": "wave", "type": "quantitative", "axis": {"values": [0,4,8,12,16,20,24,28,32,36], "format": "d", "title": "Wave number", "labelOverlap": false, "labelSeparation": -40}},
       "y": {"field": "amp", "type": "quantitative"},
       "fill": {"field": "wave", "type": "ordinal", "scale": {"domain": [1,2,3,4,5,6,7,8,9,10,11,12,13,14,15,16,17,18,19,20,21,22,23,24], "range": ["#1f77b4","#ff7f0e","#2ca02c","#d62728","#9467bd","#8c564b","#e377c2","#7f7f7f","#bcbd22","#17becf","#1f77b4","#ff7f0e","#2ca02c","#d62728","#9467bd","#8c564b","#e377c2","#7f7f7f","#bcbd22","#17becf","#1f77b4","#ff7f0e","#2ca02c","#d62728"]}, "legend": null}
     }},
    {"data": {"name": "waves"}, "transform": [{"filter": "datum.amp <= 3.5"}], "mark": {"type": "point", "filled": false, "shape": "M-1,-1L1,1M1,-1L-1,1", "size": 70, "strokeWidth": 1.5, "opacity": 1},
     "encoding": {
       "x": {"field": "wave", "type": "quantitative", "axis": {"values": [0,4,8,12,16,20,24,28,32,36], "format": "d", "title": "Wave number", "labelOverlap": false, "labelSeparation": -40}},
       "y": {"field": "amp", "type": "quantitative"},
       "stroke": {"field": "wave", "type": "ordinal", "scale": {"domain": [1,2,3,4,5,6,7,8,9,10,11,12,13,14,15,16,17,18,19,20,21,22,23,24], "range": ["#1f77b4","#ff7f0e","#2ca02c","#d62728","#9467bd","#8c564b","#e377c2","#7f7f7f","#bcbd22","#17becf","#1f77b4","#ff7f0e","#2ca02c","#d62728","#9467bd","#8c564b","#e377c2","#7f7f7f","#bcbd22","#17becf","#1f77b4","#ff7f0e","#2ca02c","#d62728"]}, "legend": null}
     }}
  ]
},
{
  "width": 298, "height": 728,
  "title": {"text": "F-domain Phase where FFT amplitude > 3.5 µV", "font": "DejaVu Sans", "fontSize": 16.5, "fontWeight": "normal", "color": "#000000", "offset": 6},
  "layer": [
    {"data": {"name": "waves"}, "mark": {"type": "rule", "strokeWidth": 2, "color": "#1f77b4", "clip": true},
     "encoding": {
       "x": {"field": "wave", "type": "quantitative", "scale": {"domain": [-0.12, 36], "nice": false, "zero": false}, "axis": {"values": [0,4,8,12,16,20,24,28,32,36], "format": "d", "title": "Wave number", "labelOverlap": false, "labelSeparation": -40}},
       "y": {"field": "phase", "type": "quantitative", "scale": {"domain": [-0.0734, 1.457], "nice": false, "zero": false}, "axis": {"values": [0,0.2,0.4,0.6,0.8,1.0,1.2,1.4], "format": ".1f", "title": "Phase (radians)"}},
       "y2": {"datum": -1}
     }},
    {"data": {"name": "waves"}, "transform": [{"filter": "datum.amp > 3.5"}], "mark": {"type": "point", "filled": true, "size": 90, "opacity": 1},
     "encoding": {
       "x": {"field": "wave", "type": "quantitative", "axis": {"values": [0,4,8,12,16,20,24,28,32,36], "format": "d", "title": "Wave number", "labelOverlap": false, "labelSeparation": -40}},
       "y": {"field": "phase", "type": "quantitative"},
       "fill": {"field": "wave", "type": "ordinal", "scale": {"domain": [1,2,3,4,5,6,7,8,9,10,11,12,13,14,15,16,17,18,19,20,21,22,23,24], "range": ["#1f77b4","#ff7f0e","#2ca02c","#d62728","#9467bd","#8c564b","#e377c2","#7f7f7f","#bcbd22","#17becf","#1f77b4","#ff7f0e","#2ca02c","#d62728","#9467bd","#8c564b","#e377c2","#7f7f7f","#bcbd22","#17becf","#1f77b4","#ff7f0e","#2ca02c","#d62728"]}, "legend": null}
     }},
    {"data": {"name": "waves"}, "transform": [{"filter": "datum.amp <= 3.5"}], "mark": {"type": "point", "filled": false, "shape": "M-1,-1L1,1M1,-1L-1,1", "size": 70, "strokeWidth": 1.5, "opacity": 1},
     "encoding": {
       "x": {"field": "wave", "type": "quantitative", "axis": {"values": [0,4,8,12,16,20,24,28,32,36], "format": "d", "title": "Wave number", "labelOverlap": false, "labelSeparation": -40}},
       "y": {"field": "phase", "type": "quantitative"},
       "stroke": {"field": "wave", "type": "ordinal", "scale": {"domain": [1,2,3,4,5,6,7,8,9,10,11,12,13,14,15,16,17,18,19,20,21,22,23,24], "range": ["#1f77b4","#ff7f0e","#2ca02c","#d62728","#9467bd","#8c564b","#e377c2","#7f7f7f","#bcbd22","#17becf","#1f77b4","#ff7f0e","#2ca02c","#d62728","#9467bd","#8c564b","#e377c2","#7f7f7f","#bcbd22","#17becf","#1f77b4","#ff7f0e","#2ca02c","#d62728"]}, "legend": null}
     }}
  ]
}
],
"resolve": {"scale": {"x": "independent", "y": "independent", "color": "independent", "fill": "independent", "stroke": "independent", "strokeDash": "independent"}, "legend": {"color": "independent", "strokeDash": "independent", "fill": "independent", "stroke": "independent"}}
}
